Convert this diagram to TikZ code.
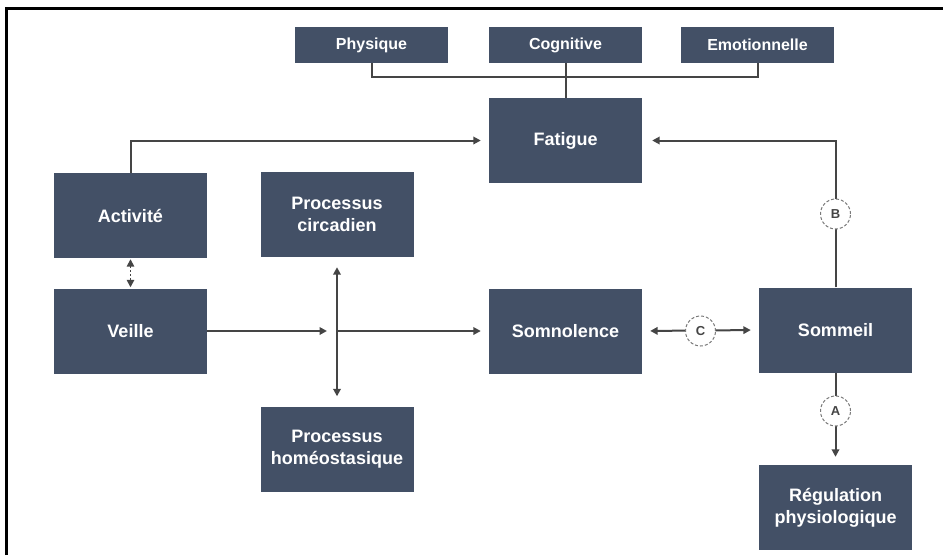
\documentclass[tikz,border=0pt]{standalone}
\usepackage{fontspec}
\setmainfont{Liberation Sans}
\usetikzlibrary{arrows.meta}
\definecolor{boxfill}{HTML}{435066}
\definecolor{wirec}{HTML}{454545}
\definecolor{ringc}{HTML}{7A7A7A}
\begin{document}
\begin{tikzpicture}[x=1pt,y=-1pt,
  box/.style={fill=boxfill, text=white, font=\fontsize{18}{22}\selectfont\bfseries,
    align=center, minimum width=153pt, minimum height=85pt, inner sep=0pt},
  tag/.style={box, minimum height=36pt, font=\fontsize{16}{19}\selectfont\bfseries},
  wire/.style={draw=wirec, line width=2pt},
  tip/.style={-{Triangle[length=7.5pt,width=7.5pt]}},
  twotips/.style={{Triangle[length=7.5pt,width=7.5pt]}-{Triangle[length=7.5pt,width=7.5pt]}},
  ring/.style={circle, draw=ringc, dash pattern=on 3pt off 2pt, line width=1pt,
    fill=white, minimum size=30pt, inner sep=0pt, text=wirec,
    font=\fontsize{13}{15}\selectfont\bfseries}
]
\useasboundingbox (0,0) rectangle (943,555);

% outer frame (top and left edges only)
\draw[black, line width=2.5pt] (6.5,555) -- (6.5,8.5) -- (943,8.5);

% top category labels
\node[tag] (phys) at (371.5,45) {Physique};
\node[tag] (cogn) at (565.5,45) {Cognitive};
\node[tag] (emot) at (757.5,45) {Emotionnelle};

% main boxes
\node[box] (fat)   at (565.5,140.5) {Fatigue};
\node[box] (act)   at (130.5,215.5) {Activité};
\node[box] (circ)  at (337,214.5)   {Processus\\circadien};
\node[box] (veil)  at (130.5,331)   {Veille};
\node[box] (somn)  at (565.5,331)   {Somnolence};
\node[box] (somm)  at (835.5,330)   {Sommeil};
\node[box] (homeo) at (337,449)     {Processus\\homéostasique};
\node[box] (regu)  at (835.5,507.5) {Régulation\\physiologique};

\coordinate (junc) at (337,331);

% fatigue components
\draw[wire] (phys.south) -- ++(0,14) -| (emot.south);
\draw[wire] (cogn.south) -- (fat.north);

% activity and sleep feeding fatigue
\draw[wire,tip,shorten >=8pt] (act.north) |- (fat.west);
\draw[wire,tip,shorten >=10pt] (somm.north) |- (fat.east);

% activity <-> wake
\draw[wire,dotted,line width=1.6pt,twotips,shorten <=1pt,shorten >=1pt] (act.south) -- (veil.north);

% wake through the two processes to sleepiness
\draw[wire,tip,shorten >=10pt] (veil.east) -- (junc);
\draw[wire,tip,shorten >=8pt] (junc) -- (somn.west);
\draw[wire,twotips,shorten <=10pt,shorten >=10pt] (circ.south) -- (homeo.north);

% sleepiness <-> sleep, sleep -> regulation
\draw[wire,twotips,shorten <=8pt,shorten >=8pt] (somn.east) -- (somm.west);
\draw[wire,tip,shorten >=8pt] (somm.south) -- (regu.north);

% lettered markers
\node[ring] (ringB) at (835.5,214) {B};
\node[ring] (ringC) at (700.5,331) {C};
\node[ring] (ringA) at (835.5,411) {A};
\end{tikzpicture}
\end{document}
